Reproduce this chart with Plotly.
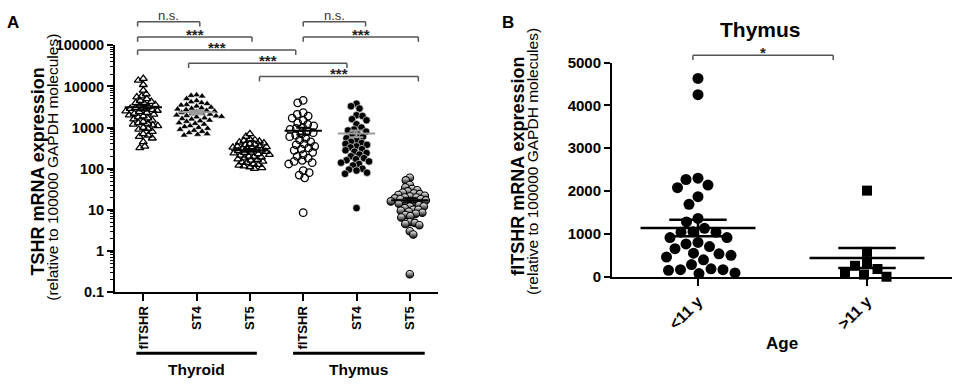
import numpy as np
import plotly.graph_objects as go

W, H = 957, 388

# ---------------- data ----------------
A_categories = ["flTSHR", "ST4", "ST5", "flTSHR", "ST4", "ST5"]
A_group_labels = ["Thyroid", "Thymus"]

thyroid_fltshr = [15500, 14000, 11000, 8000, 6500, 5800, 5500, 5000, 4500, 4300,
                  4000, 3800, 3600, 3400, 3200, 3000, 2900, 2800, 2700, 2600,
                  2500, 2400, 2300, 2200, 2100, 2000, 1900, 1800, 1700, 1600,
                  1500, 1400, 1300, 1250, 1200, 1150, 1100, 1000, 950, 900,
                  800, 700, 650, 600, 550, 450, 350, 320]
thyroid_st4 = [6200, 6000, 5800, 5000, 4500, 4200, 4000, 3800, 3600, 3500,
               3300, 3100, 3000, 2900, 2800, 2700, 2600, 2500, 2400, 2300,
               2200, 2150, 2100, 2000, 1950, 1900, 1850, 1800, 1700, 1650,
               1600, 1500, 1450, 1400, 1300, 1250, 1200, 1100, 1050, 1000,
               950, 900, 850, 800, 750, 700, 680, 650]
thyroid_st5 = [700, 600, 520, 500, 480, 460, 440, 420, 400, 390,
               380, 360, 350, 340, 330, 320, 310, 300, 290, 280,
               270, 260, 250, 245, 240, 230, 220, 210, 200, 195,
               190, 180, 170, 165, 160, 150, 145, 140, 130, 125,
               120, 115, 110, 105, 100]
thymus_fltshr = [4600, 4000, 2300, 2100, 1900, 1700, 1500, 1300, 1200, 1100,
                 1000, 950, 900, 800, 750, 700, 650, 600, 550, 500,
                 450, 400, 380, 350, 320, 300, 280, 250, 220, 200,
                 180, 160, 150, 140, 130, 90, 80, 70, 60, 8.5]
thymus_st4 = [3800, 3300, 2900, 2000, 1900, 1600, 1500, 1200, 1000, 900,
              850, 800, 700, 650, 600, 550, 500, 450, 420, 400,
              380, 350, 330, 300, 280, 260, 240, 220, 200, 180,
              170, 160, 150, 140, 130, 120, 100, 95, 90, 80, 75, 11]
thymus_st5 = [60, 52, 40, 35, 32, 30, 28, 26, 25, 24, 23, 22, 21, 20, 20,
              19, 18, 18, 17, 16, 16, 15, 15, 14, 13, 12, 12, 11, 10, 10,
              9.5, 9, 8.5, 8, 7.5, 7, 6.5, 5, 4.8, 4.5, 4.2, 3, 2.5, 0.27]

A_tick_vals = [0.1, 1, 10, 100, 1000, 10000, 100000]
A_tick_text = ["0.1", "1", "10", "100", "1000", "10000", "100000"]

B_categories = ["&lt;11 y", "&gt;11 y"]
thymus_lt11 = [4630, 4250, 2270, 2300, 2080, 2140, 1870, 1690, 1360, 1280,
               1130, 1040, 1050, 1040, 915, 915, 800, 765, 705, 655,
               535, 550, 460, 500, 395, 285, 165, 150, 90, 75, 165, 185]
thymus_gt11 = [2010, 580, 255, 310, 105, 180, 0, 50]
B_tick_vals = [0, 1000, 2000, 3000, 4000, 5000]

# ---------------- geometry helpers ----------------
def xf(px):
    return px / W

def yf(py):
    return 1 - py / H

FONT = "Liberation Sans, Arial, sans-serif"

# Panel A axes geometry (pixels)
A_x0, A_x1, A_y0, A_y1 = 115, 438, 296, 38
A_c0, A_dc = 143.3, 53.3
A_xrange = [(A_x0 - A_c0) / A_dc, (A_x1 - A_c0) / A_dc]
A_yrange = [-1, 5]
A_pxdec = (A_y0 - A_y1) / (A_yrange[1] - A_yrange[0])

# Panel B axes geometry
B_x0, B_x1, B_y0, B_y1 = 612, 952, 280, 56
B_c0, B_dc = 698, 169
B_xrange = [(B_x0 - B_c0) / B_dc, (B_x1 - B_c0) / B_dc]
B_yrange = [0, 5000]
B_pxunit = (B_y0 - B_y1) / (B_yrange[1] - B_yrange[0])


def swarm(py, d, step=0.5, maxk=600):
    py = np.asarray(py, dtype=float)
    order = np.argsort(py)
    out = np.zeros(len(py))
    pxs, pys = [], []
    for n, i in enumerate(order):
        y = py[i]
        ax = np.array(pxs)
        ay = np.array(pys)
        chosen = 0.0
        for k in range(maxk):
            if k == 0:
                cands = [0.0]
            else:
                cands = [k * step, -k * step] if n % 2 == 0 else [-k * step, k * step]
            found = False
            for x in cands:
                if len(ax) == 0 or np.all((ax - x) ** 2 + (ay - y) ** 2 >= d * d - 1e-9):
                    chosen = x
                    found = True
                    break
            if found:
                break
        out[i] = chosen
        pxs.append(chosen)
        pys.append(y)
    return out


fig = go.Figure()

# ---------------- panel A ----------------
A_data = [thyroid_fltshr, thyroid_st4, thyroid_st5, thymus_fltshr, thymus_st4, thymus_st5]
A_markers = [
    dict(symbol="triangle-up-open", size=7, color="black", line=dict(width=1.3, color="black")),
    dict(symbol="triangle-up", size=7, color="black", line=dict(width=0.6, color="white")),
    dict(symbol="triangle-up-open", size=7, color="black", line=dict(width=1.3, color="black")),
    dict(symbol="circle-open", size=7.5, color="black", line=dict(width=1.3, color="black")),
    dict(symbol="circle", size=7.5, color="black", line=dict(width=0.6, color="white")),
    dict(symbol="circle", size=7.5, color="white",
         gradient=dict(type="vertical", color="black"), line=dict(width=1.1, color="black")),
]
A_swarm_d = [4.9, 5.3, 4.6, 6.0, 5.8, 4.8]
A_barcolors = ["black", "#9a9a9a", "black", "black", "#9a9a9a", "black"]

for i, vals in enumerate(A_data):
    v = np.asarray(vals, dtype=float)
    py = -np.log10(v) * A_pxdec
    off = swarm(py, d=A_swarm_d[i]) / A_dc
    fig.add_trace(go.Scatter(x=i + off, y=v, mode="markers", marker=A_markers[i],
                             xaxis="x", yaxis="y", cliponaxis=False, showlegend=False,
                             hoverinfo="skip"))
for i, vals in enumerate(A_data):
    v = np.asarray(vals, dtype=float)
    m = v.mean()
    sem = v.std(ddof=1) / np.sqrt(len(v))
    hw, cw = 0.35, 0.13
    xs = [i - hw, i + hw, None, i, i, None, i - cw, i + cw, None, i - cw, i + cw]
    ys = [m, m, None, m - sem, m + sem, None, m + sem, m + sem, None, m - sem, m - sem]
    fig.add_trace(go.Scatter(x=xs, y=ys, mode="lines",
                             line=dict(color=A_barcolors[i], width=2),
                             xaxis="x", yaxis="y", showlegend=False, hoverinfo="skip"))

# ---------------- panel B ----------------
B_data = [thymus_lt11, thymus_gt11]
B_markers = [
    dict(symbol="circle", size=11, color="black"),
    dict(symbol="square", size=10, color="black"),
]
for i, vals in enumerate(B_data):
    v = np.asarray(vals, dtype=float)
    py = -v * B_pxunit
    off = swarm(py, d=12.0) / B_dc
    fig.add_trace(go.Scatter(x=i + off, y=v, mode="markers", marker=B_markers[i],
                             xaxis="x2", yaxis="y2", cliponaxis=False, showlegend=False,
                             hoverinfo="skip"))
for i, vals in enumerate(B_data):
    v = np.asarray(vals, dtype=float)
    m = v.mean()
    sem = v.std(ddof=1) / np.sqrt(len(v))
    hw, cw = 0.34, 0.17
    xs = [i - hw, i + hw, None, i, i, None, i - cw, i + cw, None, i - cw, i + cw]
    ys = [m, m, None, m - sem, m + sem, None, m + sem, m + sem, None, m - sem, m - sem]
    fig.add_trace(go.Scatter(x=xs, y=ys, mode="lines", line=dict(color="black", width=2.5),
                             xaxis="x2", yaxis="y2", showlegend=False, hoverinfo="skip",
                             cliponaxis=False))

axis_common = dict(showgrid=False, zeroline=False, showline=True, linecolor="black",
                   linewidth=2, ticks="outside", tickcolor="black", tickwidth=2,
                   fixedrange=True)

fig.update_layout(
    width=W, height=H, autosize=False,
    margin=dict(l=0, r=0, t=0, b=0),
    paper_bgcolor="white", plot_bgcolor="white",
    showlegend=False, hovermode=False,
    font=dict(family=FONT, color="black"),
    xaxis=dict(domain=[xf(A_x0), xf(A_x1)], range=A_xrange, anchor="y",
               tickmode="array", tickvals=list(range(6)), ticktext=A_categories,
               tickangle=-90, ticklen=7,
               tickfont=dict(family=FONT, size=13, weight="bold", color="black"),
               **axis_common),
    yaxis=dict(domain=[yf(A_y0), yf(A_y1)], type="log", range=A_yrange, anchor="x",
               tickmode="array", tickvals=A_tick_vals, ticktext=A_tick_text, ticklen=6,
               tickfont=dict(family=FONT, size=14.5, weight="bold", color="black"),
               minor=dict(ticks="outside", ticklen=3, tickwidth=1, tickcolor="black",
                          dtick="D1", showgrid=False),
               **axis_common),
    xaxis2=dict(domain=[xf(B_x0), xf(B_x1)], range=B_xrange, anchor="y2",
                tickmode="array", tickvals=[0, 1], ticktext=B_categories,
                tickangle=-45, ticklen=7,
                tickfont=dict(family=FONT, size=16, weight="bold", color="black"),
                **axis_common),
    yaxis2=dict(domain=[yf(B_y0), yf(B_y1)], range=B_yrange, anchor="x2",
                tickmode="array", tickvals=B_tick_vals, ticklen=6,
                tickfont=dict(family=FONT, size=15, weight="bold", color="black"),
                **axis_common),
)

shapes = []
annotations = []

def add_text(px, py, text, size, bold=False, angle=0, xanchor="center", yanchor="middle"):
    annotations.append(dict(x=xf(px), y=yf(py), xref="paper", yref="paper",
                            text=text, showarrow=False, textangle=angle,
                            xanchor=xanchor, yanchor=yanchor,
                            font=dict(family=FONT, size=size, color="black",
                                      weight="bold" if bold else "normal")))

# panel labels
add_text(13, 14, "A", 17, bold=True)
add_text(508, 14, "B", 17, bold=True)

# y-axis titles
add_text(38, 170, "TSHR mRNA expression", 18, bold=True, angle=-90)
add_text(53, 166, "(relative to 100000 GAPDH molecules)", 15.5, angle=-90)
add_text(518, 165, "flTSHR mRNA expression", 18, bold=True, angle=-90)
add_text(533, 160, "(relative to 100000 GAPDH molecules)", 15.5, angle=-90)

# group underlines (panel A)
for (xa, xb), lab in zip([(-0.13, 2.13), (2.81, 5.28)], A_group_labels):
    shapes.append(dict(type="line", xref="x", yref="paper", x0=xa, x1=xb,
                       y0=yf(360), y1=yf(360), line=dict(color="black", width=3)))
    annotations.append(dict(x=(xa + xb) / 2, xref="x", y=yf(377), yref="paper",
                            text=lab, showarrow=False, xanchor="center", yanchor="middle",
                            font=dict(family=FONT, size=15.5, color="black", weight="bold")))

# significance brackets, panel A: (x start, x end, line y px, label)
A_brackets = [(-0.107, 1.06, 13.3, "n.s."), (-0.107, 2.04, 29.3, "***"),
              (-0.107, 2.86, 43, "***"), (0.85, 3.82, 56.7, "***"),
              (2.18, 5.16, 70.7, "***"), (3.0, 4.17, 13.3, "n.s."),
              (3.0, 5.16, 29.3, "***")]

def bracket(xref, xa, xb, ypx, label):
    lc = dict(color="#555555", width=1.5)
    shapes.append(dict(type="line", xref=xref, yref="paper", x0=xa, x1=xb,
                       y0=yf(ypx), y1=yf(ypx), line=lc))
    for xx in (xa, xb):
        shapes.append(dict(type="line", xref=xref, yref="paper", x0=xx, x1=xx,
                           y0=yf(ypx), y1=yf(ypx + 5), line=lc))
    if label == "n.s.":
        annotations.append(dict(x=(xa + xb) / 2, xref=xref, y=yf(ypx - 6), yref="paper",
                                text=label, showarrow=False, xanchor="center", yanchor="middle",
                                font=dict(family=FONT, size=13, color="#333333")))
    else:
        annotations.append(dict(x=(xa + xb) / 2, xref=xref, y=yf(ypx - 3), yref="paper",
                                text=label, showarrow=False, xanchor="center", yanchor="middle",
                                font=dict(family=FONT, size=15, color="#222222", weight="bold")))

for b in A_brackets:
    bracket("x", *b)

# panel B title / bracket / x title
add_text(760, 21, "Thymus", 21, bold=True)
bracket("x2", -0.03, 0.8, 48.3, "*")
add_text(782, 350, "Age", 17, bold=True)

fig.update_layout(shapes=shapes, annotations=annotations)

page_fix = (
    "document.documentElement.style.margin='0px';"
    "document.documentElement.style.overflow='hidden';"
    "document.body.style.margin='0px';"
    "document.body.style.padding='0px';"
    "document.body.style.overflow='hidden';"
)

fig.write_html("out.html", config=dict(displayModeBar=False, staticPlot=True),
               post_script=page_fix)
